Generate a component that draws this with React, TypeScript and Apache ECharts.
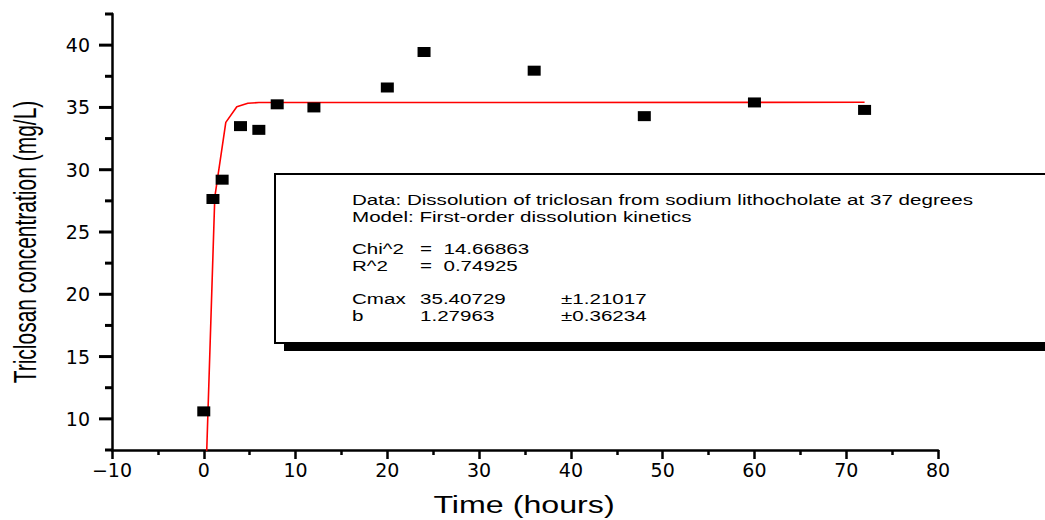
import React, { useEffect, useRef } from "react";
import * as echarts from "echarts";

// Measured data points (time in hours, concentration in mg/L)
const times = [0, 1, 2, 4, 6, 8, 12, 20, 24, 36, 48, 60, 72];
const conc = [10.6, 27.65, 29.2, 33.5, 33.2, 35.25, 35.0, 36.6, 39.45, 37.95, 34.3, 35.4, 34.8];

// Fitted curve points as drawn
const fitT = [0, 1.2, 2.4, 3.6, 4.8, 6.0, 72];
const fitC = [0, 27.8, 33.8, 35.05, 35.33, 35.39, 35.41];

// Axis ranges and y ticks
const X_MIN = -10;
const X_MAX = 80;
const Y_MIN = 7.5;
const Y_MAX = 42.5;
const yMajor = [10, 15, 20, 25, 30, 35, 40];
const yMinor = [7.5, 12.5, 17.5, 22.5, 27.5, 32.5, 37.5, 42.5];

// Fit report text
const headerLines = [
  "Data: Dissolution of triclosan from sodium lithocholate at 37 degrees",
  "Model: First-order dissolution kinetics",
];
const statNames = ["Chi^2", "R^2"];
const statValues = ["=  14.66863", "=  0.74925"];
const paramNames = ["Cmax", "b"];
const paramValues = ["35.40729", "1.27963"];
const paramErrors = ["\u00b11.21017", "\u00b10.36234"];

const FONT = "Liberation Sans, Arial, Helvetica, sans-serif";
const SX = 1.47;

function txt(text: string, x: number, y: number, size = 14) {
  return {
    type: "text",
    x,
    y,
    scaleX: SX,
    z: 10,
    style: {
      text,
      fontSize: size,
      fontFamily: FONT,
      fill: "#000",
      align: "left",
      textAlign: "left",
      verticalAlign: "middle",
      textVerticalAlign: "middle",
    },
  };
}

export default function App() {
  const ref = useRef<HTMLDivElement>(null);

  useEffect(() => {
    if (!ref.current) return;
    const chart = echarts.init(ref.current, null, { renderer: "svg" });

    const scatterData = times.map((t, i) => [t, conc[i]]);
    const fitData = fitT.map((t, i) => [t, fitC[i]]);

    const textEls: any[] = [];
    headerLines.forEach((l, i) => textEls.push(txt(l, 352, [200, 217][i])));
    statNames.forEach((n, i) => {
      const y = [249, 266][i];
      textEls.push(txt(n, 352, y));
      textEls.push(txt(statValues[i], 420, y));
    });
    paramNames.forEach((n, i) => {
      const y = [299, 316][i];
      textEls.push(txt(n, 352, y));
      textEls.push(txt(paramValues[i], 420, y));
      textEls.push(txt(paramErrors[i], 561, y));
    });

    const tickStyle = { color: "#000", width: 2.5 };

    const baseGraphic: any[] = [
      {
        type: "text",
        x: 26,
        y: 242,
        rotation: Math.PI / 2,
        scaleY: 1.45,
        style: {
          text: "Triclosan concentration (mg/L)",
          fontSize: 21,
          fontFamily: FONT,
          fill: "#000",
          align: "center",
          textAlign: "center",
          verticalAlign: "middle",
          textVerticalAlign: "middle",
        },
      },
      {
        type: "text",
        x: 524,
        y: 505,
        scaleX: 1.4,
        style: {
          text: "Time (hours)",
          fontSize: 23,
          fontFamily: FONT,
          fill: "#000",
          align: "center",
          textAlign: "center",
          verticalAlign: "middle",
          textVerticalAlign: "middle",
        },
      },
      {
        type: "rect",
        shape: { x: 284, y: 182, width: 800, height: 169 },
        style: { fill: "#000" },
        z: 5,
      },
      {
        type: "rect",
        shape: { x: 275, y: 174, width: 800, height: 169 },
        style: { fill: "#fff", stroke: "#000", lineWidth: 2 },
        z: 6,
      },
      ...textEls,
    ];

    const option: any = {
      animation: false,
      backgroundColor: "#fff",
      grid: { left: 112, right: 107, top: 14, bottom: 70, containLabel: false },
      xAxis: {
        type: "value",
        min: X_MIN,
        max: X_MAX,
        interval: 10,
        axisLine: { show: true, onZero: false, lineStyle: { color: "#000", width: 2.5 } },
        axisTick: { show: true, inside: false, length: 9, lineStyle: tickStyle },
        minorTick: { show: true, splitNumber: 2, length: 5, lineStyle: tickStyle },
        splitLine: { show: false },
        axisLabel: {
          color: "#000",
          fontSize: 19,
          fontFamily: "DejaVu Sans",
          margin: 10,
          formatter: (v: number) => (v < 0 ? "\u2212" + Math.abs(v) : String(v)),
        },
      },
      yAxis: {
        type: "value",
        min: Y_MIN,
        max: Y_MAX,
        position: "left",
        axisLine: { show: true, onZero: false, lineStyle: { color: "#000", width: 2.5 } },
        axisTick: { show: false },
        splitLine: { show: false },
        axisLabel: {
          color: "#000",
          fontSize: 19,
          fontFamily: "DejaVu Sans",
          margin: 22,
          customValues: yMajor,
        },
      },
      graphic: baseGraphic,
      series: [
        {
          type: "line",
          data: fitData,
          showSymbol: false,
          symbol: "none",
          clip: true,
          lineStyle: { color: "#ff0000", width: 1.6 },
          z: 2,
        },
        {
          type: "scatter",
          data: scatterData,
          symbol: "rect",
          symbolSize: [13, 10],
          itemStyle: { color: "#000", opacity: 1 },
          z: 3,
        },
      ],
    };

    chart.setOption(option);

    // y-axis ticks (filled bars), positioned through the chart's own y scale
    const tickEls: any[] = [];
    const addTicks = (vals: number[], len: number) => {
      vals.forEach((v) => {
        const p = chart.convertToPixel({ xAxisIndex: 0, yAxisIndex: 0 }, [X_MIN, v]) as number[];
        if (!p || !isFinite(p[0]) || !isFinite(p[1])) return;
        tickEls.push({
          type: "rect",
          z: 30,
          shape: { x: p[0] - len, y: p[1] - 1.5, width: len + 1, height: 3 },
          style: { fill: "#000" },
        });
      });
    };
    addTicks(yMajor, 13);
    addTicks(yMinor, 7);
    chart.setOption({ graphic: [...baseGraphic, ...tickEls] });

    return () => chart.dispose();
  }, []);

  return (
    <div
      ref={ref}
      style={{ position: "fixed", left: 0, top: 0, width: 1045, height: 520, background: "#fff" }}
    />
  );
}
